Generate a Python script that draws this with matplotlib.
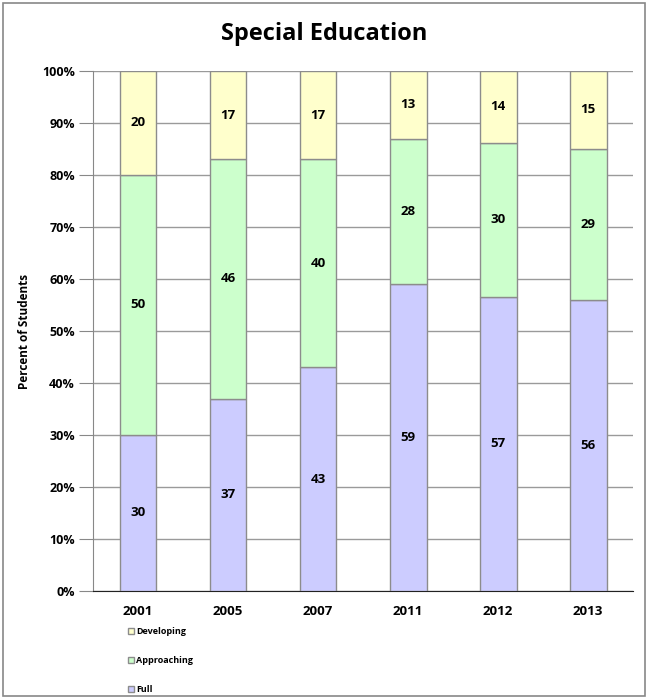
import matplotlib.pyplot as plt
from matplotlib.patches import Patch, Rectangle
from matplotlib.ticker import PercentFormatter

years = ["2001", "2005", "2007", "2011", "2012", "2013"]
full = [30, 37, 43, 59, 56.6, 56]
approaching = [50, 46, 40, 28, 29.6, 29]
developing = [20, 17, 17, 13, 13.8, 15]

plt.rcParams["font.family"] = ["Open Sans", "DejaVu Sans"]
plt.rcParams["font.weight"] = "bold"

fig = plt.figure(figsize=(6.48, 6.98), dpi=100)
fig.patches.append(Rectangle((0.004, 0.003), 0.992, 0.993, transform=fig.transFigure,
                             fill=False, edgecolor="#888888", linewidth=1.2))
ax = fig.add_axes([0.1435, 0.1533, 0.8335, 0.745])

x = range(len(years))
edge = "#8c8c8c"
b1 = ax.bar(x, full, width=0.41, color="#CCCCFF", edgecolor=edge, linewidth=1, zorder=3, label="Full")
bottom2 = full
b2 = ax.bar(x, approaching, width=0.41, bottom=bottom2, color="#CCFFCC", edgecolor=edge, linewidth=1,
            zorder=3, label="Approaching")
bottom3 = [f + a for f, a in zip(full, approaching)]
b3 = ax.bar(x, developing, width=0.41, bottom=bottom3, color="#FFFFCC", edgecolor=edge, linewidth=1,
            zorder=3, label="Developing")

for bars in (b1, b2, b3):
    ax.bar_label(bars, labels=["%.0f" % b.get_height() for b in bars], label_type="center",
                 fontsize=9.5, fontweight="bold", zorder=4)

ax.set_xlim(-0.5, 5.5)
ax.set_ylim(0, 100)
ax.set_yticks(range(0, 101, 10))
ax.yaxis.set_major_formatter(PercentFormatter(decimals=0))
ax.set_xticks(list(x))
ax.set_xticklabels(years, fontweight="bold")
ax.tick_params(axis="x", length=0, pad=10, labelsize=9.5)
ax.tick_params(axis="y", length=10, color="#888888", labelsize=9, pad=3)
for t in ax.get_yticklabels():
    t.set_fontweight("bold")
ax.yaxis.grid(True, color="#9a9a9a", linewidth=1, zorder=0)
ax.spines["top"].set_visible(False)
ax.spines["right"].set_visible(False)
ax.spines["left"].set_color("#888888")
ax.spines["bottom"].set_color("#222222")
ax.set_ylabel("Percent of Students", fontsize=8.5, fontweight="bold", labelpad=8)

fig.suptitle("Special Education", fontsize=17, fontweight="bold", y=0.968)

handles = [Patch(facecolor="#FFFFCC", edgecolor=edge, label="Developing"),
           Patch(facecolor="#CCFFCC", edgecolor=edge, label="Approaching"),
           Patch(facecolor="#CCCCFF", edgecolor=edge, label="Full")]
fig.legend(handles=handles, loc="lower left", bbox_to_anchor=(0.185, -0.006), frameon=False,
           handlelength=0.7, handleheight=0.7, handletextpad=0.2,
           labelspacing=2.2, prop={"weight": "bold", "size": 6.5})

fig.savefig("out.png", dpi=100)
